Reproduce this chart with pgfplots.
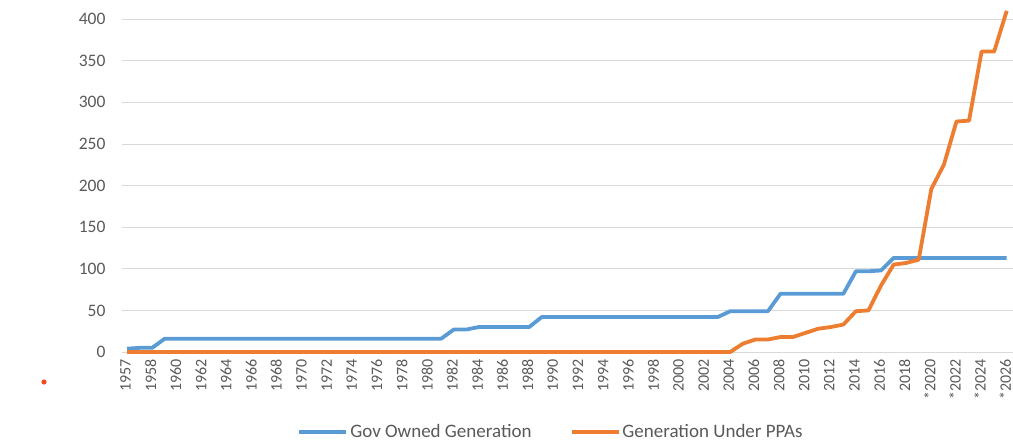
\documentclass[border=0pt]{standalone}
\usepackage{fontspec}
\setmainfont{Carlito}
\usepackage{pgfplots}
\pgfplotsset{compat=1.18}
\usetikzlibrary{calc}
\definecolor{govblue}{HTML}{5B9BD5}
\definecolor{ppaorange}{HTML}{ED7D31}
\definecolor{gridgray}{HTML}{D9D9D9}
\definecolor{txtgray}{HTML}{595959}
\definecolor{dotred}{HTML}{F04A1E}

% index 0 = 1957, index 1 = unlabeled second 1957 entry, index k>=2 = 1956+k
\pgfplotstableread{
idx gov ppa
0 4 0
1 5 0
2 5 0
3 16 0
4 16 0
5 16 0
6 16 0
7 16 0
8 16 0
9 16 0
10 16 0
11 16 0
12 16 0
13 16 0
14 16 0
15 16 0
16 16 0
17 16 0
18 16 0
19 16 0
20 16 0
21 16 0
22 16 0
23 16 0
24 16 0
25 16 0
26 27 0
27 27 0
28 30 0
29 30 0
30 30 0
31 30 0
32 30 0
33 42 0
34 42 0
35 42 0
36 42 0
37 42 0
38 42 0
39 42 0
40 42 0
41 42 0
42 42 0
43 42 0
44 42 0
45 42 0
46 42 0
47 42 0
48 49 0
49 49 10
50 49 15
51 49 15
52 70 18
53 70 18
54 70 23
55 70 28
56 70 30
57 70 33
58 97 49
59 97 50
60 98 80
61 113 105
62 113 107
63 113 111
64 113 196
65 113 225
66 113 277
67 113 278
68 113 361
69 113 361
70 113 410
}\gendata

\begin{document}
\begin{tikzpicture}
\begin{axis}[
    scale only axis,
    width=891pt, height=352pt,
    xmin=-0.4, xmax=70.5,
    ymin=0, ymax=423,
    axis line style={draw=none},
    ytick={0,50,...,400},
    ymajorgrids,
    grid style={gridgray, line width=0.9pt},
    xtick={0,2,...,70},
    xticklabels={1957,1958,1960,1962,1964,1966,1968,1970,1972,1974,1976,1978,1980,1982,1984,1986,1988,1990,1992,1994,1996,1998,2000,2002,2004,2006,2008,2010,2012,2014,2016,2018,*2020,*2022,*2024,*2026},
    major tick length=0pt,
    tick style={draw=none},
    tick label style={txtgray},
    /pgf/number format/assume math mode=true,
    xticklabel style={rotate=90, anchor=east, font=\fontsize{16}{18}\selectfont, xshift=-4pt, yshift=1.5pt},
    yticklabel style={font=\fontsize{17.5}{20}\selectfont, xshift=-13pt},
    legend style={at={(0.4815,-0.227)}, anchor=center, draw=none, fill=none,
        legend columns=2, font=\fontsize{19}{22}\selectfont, text=txtgray,
        /tikz/every even column/.append style={column sep=36pt}},
    legend image code/.code={\draw[#1, line width=3.8pt] (0pt,0pt) -- (47pt,0pt);},
    clip=false,
]
\draw[gridgray, line width=0.9pt] (axis cs:-0.4,0) -- (axis cs:70.5,0);
\addplot[govblue, line width=3.8pt, line join=round] table[x=idx, y=gov] {\gendata};
\addplot[ppaorange, line width=3.8pt, line join=round] table[x=idx, y=ppa] {\gendata};
\legend{Gov Owned Generation, Generation Under PPAs}
\end{axis}
\fill[dotred] ($(current axis.south west)+(-78pt,-30pt)$) circle (2.6pt);
\pgfresetboundingbox
\path ($(current axis.south west)+(-122pt,-89pt)$) rectangle (current axis.north east);
\end{tikzpicture}
\end{document}
